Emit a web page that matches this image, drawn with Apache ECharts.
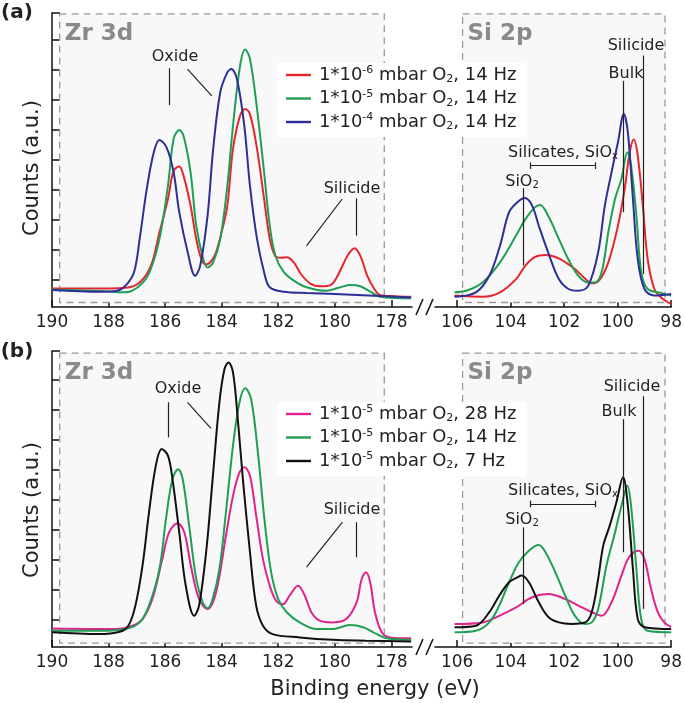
<!DOCTYPE html>
<html><head><meta charset="utf-8">
<script src="https://cdn.jsdelivr.net/npm/echarts@6/dist/echarts.min.js"></script>
<style>html,body{margin:0;padding:0;background:#fff}#c{width:685px;height:703px}</style>
</head><body><div id="c"></div>
<script>
// ---------- tick labels ----------
const zrTicks = [190, 188, 186, 184, 182, 180, 178];
const siTicks = [106, 104, 102, 100, 98];
const yTicksA = [0.9, 1.9, 2.9, 3.9, 4.9, 5.9, 6.9, 7.9, 8.9, 9.8];
const yTicksB = [0.9, 1.9, 2.9, 3.9, 4.9, 5.9, 6.9, 7.9, 8.9, 9.87];

// ---------- legend names ----------
const namesA = ['1*10-6 mbar O2, 14 Hz', '1*10-5 mbar O2, 14 Hz', '1*10-4 mbar O2, 14 Hz'];
const namesB = ['1*10-5 mbar O2, 28 Hz', '1*10-5 mbar O2, 14 Hz', '1*10-5 mbar O2, 7 Hz'];

// ---------- panel (a) Zr 3d ----------
const zrA_red = [[190,0.62],[188,0.62],[187.4,0.64],[186.9,0.82],[186.5,1.38],[186.2,2.49],[185.9,3.6],[185.7,4.54],[185.5,4.68],[185.35,4.38],[185.1,3.38],[184.9,2.27],[184.7,1.55],[184.55,1.42],[184.35,1.55],[184.2,1.82],[184.0,2.5],[183.8,3.38],[183.6,5.27],[183.35,6.38],[183.17,6.6],[183.0,6.43],[182.75,5.27],[182.5,3.6],[182.3,2.27],[182.1,1.69],[181.9,1.64],[181.7,1.66],[181.45,1.49],[181.2,1.1],[180.85,0.77],[180.5,0.69],[180.15,0.73],[179.9,1.04],[179.55,1.71],[179.3,1.96],[179.1,1.71],[178.85,1.04],[178.6,0.6],[178.4,0.4],[177.9,0.36],[177.3,0.34]];
const zrA_green = [[190,0.58],[188.3,0.53],[187.4,0.49],[186.9,0.71],[186.55,1.16],[186.2,2.27],[185.9,4.04],[185.7,5.6],[185.5,5.9],[185.35,5.71],[185.1,4.49],[184.9,2.71],[184.65,1.6],[184.5,1.32],[184.3,1.49],[184.05,2.27],[183.8,4.04],[183.6,6.04],[183.35,8.04],[183.17,8.58],[183.0,8.27],[182.75,6.6],[182.5,4.49],[182.3,2.71],[182.1,1.71],[181.8,1.16],[181.45,0.88],[181.0,0.66],[180.3,0.54],[179.8,0.66],[179.45,0.73],[179.1,0.69],[178.7,0.49],[178.4,0.34],[177.3,0.29]];
const zrA_blue = [[190,0.57],[188.3,0.51],[187.7,0.54],[187.4,0.71],[187.1,1.16],[186.9,2.27],[186.65,3.93],[186.4,5.16],[186.2,5.57],[185.95,5.32],[185.7,4.49],[185.5,3.16],[185.2,1.82],[184.94,1.04],[184.76,1.38],[184.5,3.04],[184.3,5.27],[184.05,7.16],[183.8,7.82],[183.66,7.93],[183.46,7.6],[183.2,6.04],[183.0,4.04],[182.75,2.27],[182.5,1.16],[182.3,0.66],[181.8,0.51],[181.0,0.47],[180.0,0.43],[178.8,0.38],[177.3,0.32]];

// ---------- panel (a) Si 2p ----------
const siA_red = [[106.1,0.38],[105.05,0.34],[104.4,0.49],[103.8,0.93],[103.45,1.38],[103.1,1.66],[102.7,1.73],[102.3,1.66],[101.95,1.49],[101.6,1.27],[101.2,0.93],[100.97,0.79],[100.7,0.88],[100.35,1.49],[99.99,2.71],[99.74,3.93],[99.55,5.16],[99.4,5.58],[99.25,5.04],[99.06,3.38],[98.88,1.6],[98.63,0.6],[98.38,0.32],[98.0,0.1]];
const siA_green = [[106.1,0.49],[105.67,0.54],[105.05,0.82],[104.4,1.49],[103.8,2.38],[103.45,2.93],[103.1,3.32],[102.9,3.4],[102.6,3.04],[102.2,2.27],[101.85,1.6],[101.47,1.04],[101.1,0.82],[100.85,0.82],[100.6,1.16],[100.35,2.49],[100.1,3.6],[99.86,4.27],[99.64,5.16],[99.5,4.71],[99.3,3.04],[99.12,1.16],[98.88,0.6],[98.38,0.47],[98.0,0.38]];
const siA_blue = [[106.1,0.34],[105.3,0.49],[104.8,1.04],[104.4,2.04],[104.06,3.16],[103.75,3.49],[103.47,3.63],[103.2,3.38],[102.95,2.71],[102.6,1.82],[102.2,0.93],[101.84,0.6],[101.47,0.54],[101.1,0.71],[100.73,1.82],[100.48,3.38],[100.23,4.49],[99.99,5.49],[99.77,6.43],[99.62,5.82],[99.43,3.6],[99.25,1.6],[99.0,0.6],[98.63,0.38],[98.0,0.43]];

// ---------- panel (b) Zr 3d ----------
const zrB_black = [[190,0.49],[188.35,0.43],[187.6,0.51],[187.3,0.71],[187.05,1.38],[186.8,2.71],[186.57,4.49],[186.33,6.04],[186.12,6.6],[185.9,6.38],[185.74,5.6],[185.5,3.82],[185.27,2.04],[184.97,1.04],[184.8,1.38],[184.55,3.16],[184.32,5.6],[184.08,8.16],[183.9,9.27],[183.76,9.49],[183.6,9.16],[183.43,7.6],[183.25,5.6],[183.0,3.16],[182.78,1.38],[182.54,0.71],[182.2,0.43],[181.24,0.32],[180.06,0.24],[178.9,0.21],[177.3,0.18]];
const zrB_green = [[190,0.54],[188.3,0.54],[187.4,0.6],[186.9,0.82],[186.57,1.38],[186.2,2.6],[185.97,4.27],[185.74,5.6],[185.54,5.93],[185.38,5.6],[185.15,4.04],[184.9,2.27],[184.67,1.49],[184.5,1.29],[184.32,1.6],[184.08,2.6],[183.85,4.49],[183.6,6.71],[183.37,8.16],[183.17,8.63],[182.96,8.27],[182.72,6.49],[182.49,4.27],[182.25,2.49],[182.0,1.6],[181.7,1.16],[181.24,0.82],[180.65,0.6],[180.06,0.6],[179.47,0.73],[179.0,0.66],[178.64,0.49],[178.17,0.29],[177.3,0.24]];
const zrB_mag = [[190,0.62],[187.75,0.6],[187.16,0.71],[186.8,0.93],[186.45,1.6],[186.1,2.93],[185.86,3.82],[185.56,4.13],[185.32,3.82],[185.09,2.71],[184.8,1.6],[184.5,1.27],[184.2,1.82],[183.85,3.71],[183.6,5.04],[183.37,5.82],[183.2,5.99],[183.0,5.71],[182.78,4.38],[182.54,2.93],[182.3,2.04],[182.07,1.54],[181.83,1.43],[181.6,1.71],[181.3,2.04],[181.06,1.71],[180.83,1.16],[180.53,0.88],[180.06,0.82],[179.6,0.93],[179.23,1.49],[179.05,2.27],[178.9,2.49],[178.75,2.16],[178.58,1.16],[178.34,0.49],[178.05,0.32],[177.3,0.29]];

// ---------- panel (b) Si 2p ----------
const siB_black = [[106.1,0.66],[105.3,0.71],[104.8,1.16],[104.43,1.71],[104.06,2.16],[103.75,2.32],[103.6,2.38],[103.32,2.16],[102.95,1.49],[102.58,0.99],[102.2,0.82],[101.72,0.77],[101.22,0.82],[100.97,1.16],[100.73,2.27],[100.54,3.38],[100.3,4.04],[100.05,4.82],[99.8,5.66],[99.62,4.71],[99.43,2.6],[99.25,0.93],[99.0,0.66],[98.0,0.6]];
const siB_green = [[106.1,0.49],[105.3,0.54],[104.8,0.82],[104.43,1.38],[104.06,2.16],[103.7,2.82],[103.32,3.21],[102.95,3.4],[102.7,3.16],[102.33,2.49],[101.96,1.71],[101.6,1.04],[101.22,0.77],[100.97,0.82],[100.73,1.27],[100.42,2.71],[100.1,3.82],[99.86,4.71],[99.64,5.38],[99.5,4.71],[99.3,2.6],[99.12,0.93],[98.88,0.54],[98.0,0.49]];
const siB_mag = [[106.1,0.77],[105.05,0.82],[104.43,1.04],[103.8,1.32],[103.2,1.66],[102.58,1.77],[101.96,1.6],[101.47,1.38],[100.97,1.16],[100.6,1.04],[100.23,1.49],[99.86,2.38],[99.62,2.93],[99.37,3.18],[99.22,3.21],[99.0,2.93],[98.75,1.93],[98.5,1.16],[98.26,0.82],[98.0,0.66]];

// ---------- annotation leader lines (data coords) ----------
const annZrA = [[[185.86,7.96],[185.86,6.73]],[[185.21,7.93],[184.35,7.04]],[[179.23,3.62],[179.23,2.38]],[[179.74,3.6],[181.0,2.04]]];
const annSiA = [[[99.06,8.38],[99.06,1.1]],[[99.78,7.54],[99.78,3.16]],[[103.26,4.71],[100.85,4.71]],[[103.26,4.6],[103.26,4.82]],[[100.85,4.6],[100.85,4.82]],[[103.54,3.96],[103.54,1.38]]];
const annZrB = [[[185.89,8.16],[185.89,6.99]],[[185.21,8.16],[184.38,7.29]],[[179.25,4.16],[179.25,2.99]],[[179.73,4.16],[181.0,2.66]]];
const annSiB = [[[99.06,8.36],[99.06,1.27]],[[99.78,7.6],[99.78,3.16]],[[103.26,4.77],[100.85,4.77]],[[103.26,4.66],[103.26,4.88]],[[100.85,4.66],[100.85,4.88]],[[103.54,3.99],[103.54,1.43]]];

const FONT = '"DejaVu Sans", sans-serif';
const TXT = '#222';
const C = { red:'#e5262d', green:'#1f9f55', blue:'#2d2f96', mag:'#e0228e', black:'#111111' };

const chart = echarts.init(document.getElementById('c'));

const grids = [
  { left: 52, top: 13, width: 360, height: 294 },
  { left: 435, top: 13, width: 238.3, height: 294 },
  { left: 52, top: 351, width: 360, height: 296 },
  { left: 435, top: 351, width: 238.3, height: 296 }
];

function xAx(gi, isZr) {
  const t = isZr ? zrTicks : siTicks;
  return {
    type: 'value', gridIndex: gi, inverse: true,
    min: isZr ? 177.27 : 98, max: isZr ? 190 : 106.83,
    axisLine: { show: true, onZero: false, lineStyle: { color: '#111', width: 1.5 } },
    axisTick: { show: true, inside: true, length: 7, customValues: t, lineStyle: { color: '#111', width: 1.5 } },
    axisLabel: { show: true, customValues: t, fontSize: 17, color: TXT, fontFamily: FONT, margin: 7 },
    splitLine: { show: false }
  };
}
function yAx(gi, show, max, ticks) {
  return {
    type: 'value', gridIndex: gi, min: 0, max: max, show: show,
    axisLine: { show: true, onZero: false, lineStyle: { color: '#111', width: 1.5 } },
    axisTick: { show: true, inside: true, length: 8, customValues: ticks, lineStyle: { color: '#111', width: 1.5 } },
    axisLabel: { show: false }, splitLine: { show: false }
  };
}

function line(name, data, color, gi) {
  return { type: 'line', name: name, data: data, xAxisIndex: gi, yAxisIndex: gi,
    symbol: 'none', showSymbol: false, smooth: 0.35, z: 3,
    lineStyle: { width: 2, color: color }, itemStyle: { color: color }, emphasis: { disabled: true } };
}
function deco(gi, box, ann) {
  return { type: 'line', data: [], xAxisIndex: gi, yAxisIndex: gi, z: 1, silent: true,
    markArea: { silent: true, label: { show: false },
      itemStyle: { color: '#f8f8f8', borderColor: '#9a9a9a', borderWidth: 1.3, borderType: [7, 5] },
      emphasis: { disabled: true },
      data: [[{ xAxis: box[0], yAxis: box[1] }, { xAxis: box[2], yAxis: box[3] }]] },
    markLine: { silent: true, symbol: ['none', 'none'], label: { show: false },
      lineStyle: { color: '#222', width: 1.2, type: 'solid' }, emphasis: { disabled: true },
      data: ann.map(p => [{ coord: p[0] }, { coord: p[1] }]) }
  };
}

function fmt(n) {
  return n.replace(/10-(\d)/, '10{sup|-$1}').replace('O2,', 'O{sub|2},');
}
const richL = {
  sup: { fontSize: 11, lineHeight: 11, verticalAlign: 'top', fontFamily: FONT, color: TXT },
  sub: { fontSize: 11, lineHeight: 11, verticalAlign: 'bottom', fontFamily: FONT, color: TXT }
};
function legend(names, top) {
  return { data: names, orient: 'vertical', left: 277, top: top, backgroundColor: '#fff',
    padding: [2, 10, 5, 9], icon: 'rect', itemWidth: 25, itemHeight: 2.4, itemGap: 3.5, selectedMode: false,
    formatter: fmt,
    textStyle: { fontSize: 18, lineHeight: 20, fontFamily: FONT, color: TXT, rich: richL, padding: [0, 0, 0, 3] } };
}

function txt(x, y, s, size, opts) {
  opts = opts || {};
  return { type: 'text', x: x, y: y, rotation: opts.rot || 0, z: 100, silent: true,
    style: { text: s, fontSize: size, fontFamily: FONT, fontWeight: opts.bold ? 'bold' : 'normal',
      fill: opts.color || TXT, align: 'center', verticalAlign: 'middle', rich: opts.rich } };
}
const subR = { s: { fontSize: 10, lineHeight: 10, verticalAlign: 'bottom', fontFamily: FONT, fill: TXT, color: TXT } };

const graphics = [
  txt(17, 13, '(a)', 20, { bold: true }),
  txt(17, 352, '(b)', 20, { bold: true }),
  txt(99, 34, 'Zr 3d', 23, { bold: true, color: '#8a8a8a' }),
  txt(500, 34, 'Si 2p', 23, { bold: true, color: '#8a8a8a' }),
  txt(99, 373, 'Zr 3d', 23, { bold: true, color: '#8a8a8a' }),
  txt(500, 373, 'Si 2p', 23, { bold: true, color: '#8a8a8a' }),
  txt(33, 168, 'Counts (a.u.)', 21, { rot: Math.PI / 2 }),
  txt(33, 510, 'Counts (a.u.)', 21, { rot: Math.PI / 2 }),
  txt(375, 690, 'Binding energy (eV)', 21),
  // annotations (a)
  txt(175, 57, 'Oxide', 16),
  txt(352, 189, 'Silicide', 16),
  txt(636, 46, 'Silicide', 16),
  txt(626, 74, 'Bulk', 16),
  txt(563, 153, 'Silicates, SiO{s|x}', 16, { rich: subR }),
  txt(522, 182, 'SiO{s|2}', 16, { rich: subR }),
  // annotations (b)
  txt(178, 389, 'Oxide', 16),
  txt(352, 510, 'Silicide', 16),
  txt(632, 387, 'Silicide', 16),
  txt(619, 412, 'Bulk', 16),
  txt(563, 491, 'Silicates, SiO{s|x}', 16, { rich: subR }),
  txt(522, 520, 'SiO{s|2}', 16, { rich: subR })
];
// axis break marks
[307, 647].forEach(function (yb) {
  [0, 10].forEach(function (dx) {
    graphics.push({ type: 'line', silent: true, z: 100,
      shape: { x1: 416 + dx, y1: yb + 8, x2: 423 + dx, y2: yb - 8 },
      style: { stroke: '#111', lineWidth: 1.5 } });
  });
});

const option = {
  animation: false,
  backgroundColor: '#fff',
  grid: grids,
  xAxis: [xAx(0, true), xAx(1, false), xAx(2, true), xAx(3, false)],
  yAxis: [yAx(0, true, 9.8, yTicksA), yAx(1, false, 9.8, yTicksA), yAx(2, true, 9.87, yTicksB), yAx(3, false, 9.87, yTicksB)],
  legend: [legend(namesA, 63), legend(namesB, 402)],
  series: [
    deco(0, [189.73, 9.77, 178.25, 0.15], annZrA),
    deco(1, [105.8, 9.77, 98.23, 0.15], annSiA),
    deco(2, [189.73, 9.8, 178.25, 0.13], annZrB),
    deco(3, [105.8, 9.8, 98.23, 0.13], annSiB),
    line(namesA[0], zrA_red, C.red, 0),
    line(namesA[1], zrA_green, C.green, 0),
    line(namesA[2], zrA_blue, C.blue, 0),
    line(namesA[0], siA_red, C.red, 1),
    line(namesA[1], siA_green, C.green, 1),
    line(namesA[2], siA_blue, C.blue, 1),
    line(namesB[0], zrB_mag, C.mag, 2),
    line(namesB[1], zrB_green, C.green, 2),
    line(namesB[2], zrB_black, C.black, 2),
    line(namesB[0], siB_mag, C.mag, 3),
    line(namesB[1], siB_green, C.green, 3),
    line(namesB[2], siB_black, C.black, 3)
  ],
  graphic: graphics
};
chart.setOption(option);
</script></body></html>
